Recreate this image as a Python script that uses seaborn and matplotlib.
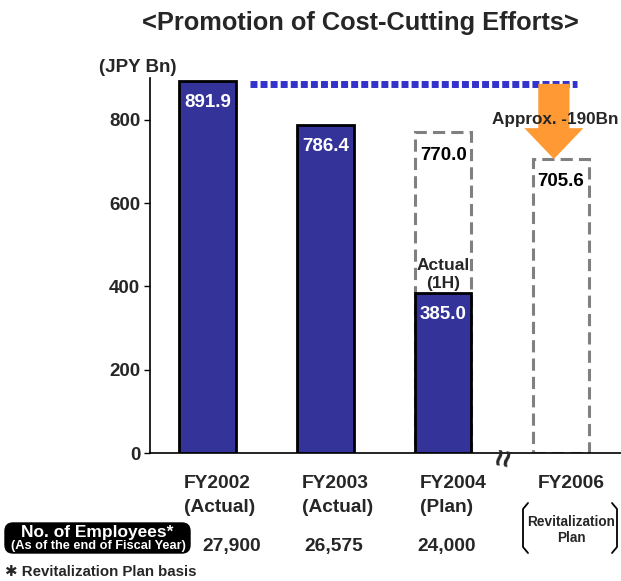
import matplotlib.pyplot as plt
import pandas as pd
import seaborn as sns
import numpy as np
from matplotlib.patches import FancyBboxPatch
from matplotlib.lines import Line2D

# dados
anos = ['FY2002', 'FY2003', 'FY2004', 'FY2006']
subtitulos = ['(Actual)', '(Actual)', '(Plan)', '']
real = [891.9, 786.4, 385.0, np.nan]
plano = [np.nan, np.nan, 770.0, 705.6]
funcionarios = ['27,900', '26,575', '24,000']
yticks = [0, 200, 400, 600, 800]

df = pd.DataFrame({'ano': anos, 'real': real, 'plano': plano})

sns.set_style("white")
plt.rcParams['font.family'] = ['Liberation Sans', 'DejaVu Sans']
plt.rcParams['font.weight'] = 'bold'

fig = plt.figure(figsize=(6.21, 5.81), dpi=100)
ax = fig.add_axes([150 / 621, 1 - 453 / 581, 471 / 621, 375 / 581])

# caixas tracejadas (plano)
sns.barplot(data=df, x='ano', y='plano', order=anos, fill=False, color='#808080',
            width=0.48, linewidth=2.2, linestyle=(0, (4, 2)), ax=ax, zorder=2)
for p in ax.patches:
    p.set_edgecolor('#808080')
    p.set_facecolor('none')

# barras reais
sns.barplot(data=df, x='ano', y='real', order=anos, color='#333399', saturation=1,
            width=0.48, edgecolor='black', linewidth=2, ax=ax, zorder=3)

ax.set_xlim(-0.49, 3.51)
ax.set_ylim(0, 900)
ax.set_yticks(yticks)
ax.set_yticklabels([str(v) for v in yticks], fontsize=13.5, fontweight='bold')
ax.set_xticks([])
ax.set_xlabel('')
ax.set_ylabel('')
ax.tick_params(axis='y', direction='out', length=4, width=1, color='black', pad=3, left=True)
for s in ['top', 'right']:
    ax.spines[s].set_visible(False)
for s in ['left', 'bottom']:
    ax.spines[s].set_color('black')
    ax.spines[s].set_linewidth(1.2)

# linha pontilhada no nível de FY2002
ax.hlines(real[0] - 6, 0.36, 3.14, colors='#3333CC', linewidth=5,
          linestyles=[(0, (1, 0.45))], zorder=4)

# seta laranja
ax.arrow(2.94, real[0] - 6, 0, plano[3] - real[0] + 6, width=0.265, head_width=0.5,
         head_length=74, length_includes_head=True, color='#FF9933', zorder=5, lw=0)
ax.text(2.95, 800, 'Approx. -190Bn', ha='center', va='center', fontsize=12.3,
        fontweight='bold', zorder=6)

# rótulos de valores
for i, v in enumerate(real):
    if not np.isnan(v):
        ax.annotate(f'{v:.1f}', xy=(i, v), xytext=(0, -15.5), textcoords='offset points',
                    ha='center', va='center', color='white', fontsize=13.5,
                    fontweight='bold', zorder=6)
for i, v in enumerate(plano):
    if not np.isnan(v):
        ax.annotate(f'{v:.1f}', xy=(i, v), xytext=(0, -16.5), textcoords='offset points',
                    ha='center', va='center', color='black', fontsize=13.5,
                    fontweight='bold', zorder=6)
ax.annotate('Actual\n(1H)', xy=(2, real[2]), xytext=(0, 1), textcoords='offset points',
            ha='center', va='bottom', fontsize=12.5, fontweight='bold', zorder=6,
            linespacing=1.3)

# quebra do eixo
ax.annotate('≈', xy=(2.53, 0), xytext=(0, -4), textcoords='offset points', rotation=80,
            ha='center', va='center', fontsize=22, fontweight='bold',
            annotation_clip=False)

# rótulos do eixo x
for i, (a, s) in enumerate(zip(anos, subtitulos)):
    txt = a if s == '' else a + '\n' + s
    ax.annotate(txt, xy=(i - 0.2, 0), xycoords=('data', 'axes fraction'),
                xytext=(0, -15.5), textcoords='offset points', ha='left', va='top',
                fontsize=13.8, fontweight='bold', linespacing=1.6,
                annotation_clip=False)

# número de funcionários
desloc = [0.2, 0.07, 0.03]
for i, f in enumerate(funcionarios):
    ax.annotate(f, xy=(i + desloc[i], 0), xycoords=('data', 'axes fraction'),
                xytext=(0, -67), textcoords='offset points', ha='center', va='center',
                fontsize=13.8, fontweight='bold', annotation_clip=False)

ax.annotate('Revitalization\nPlan', xy=(3.09, 0), xycoords=('data', 'axes fraction'),
            xytext=(0, -55.5), textcoords='offset points', ha='center', va='center',
            fontsize=9.8, fontweight='bold', linespacing=1.2, annotation_clip=False)

# colchetes
def px(x, y):
    return x / 621, 1 - y / 581

for pts in ([(528, 503), (523, 509), (523, 547), (528, 553)],
            [(612, 503), (617, 509), (617, 547), (612, 553)]):
    xs, ys = zip(*[px(x, y) for x, y in pts])
    fig.add_artist(Line2D(xs, ys, color='black', linewidth=1.3, transform=fig.transFigure))

# caixa preta
caixa = FancyBboxPatch((0.05, 0.28), 1.85, 0.30, boxstyle='round,pad=0,rounding_size=0.08',
                       facecolor='black', edgecolor='black', transform=fig.dpi_scale_trans)
fig.add_artist(caixa)
fig.text(97 / 621, 1 - 532 / 581, 'No. of Employees*', color='white', ha='center',
         va='center', fontsize=12.5, fontweight='bold')
fig.text(98 / 621, 1 - 545.5 / 581, '(As of the end of Fiscal Year)', color='white',
         ha='center', va='center', fontsize=9.2, fontweight='bold')
fig.text(5 / 621, 1 - 572 / 581, '✱ Revitalization Plan basis', ha='left', va='center',
         fontsize=10.8, fontweight='bold')

# títulos
fig.text(360 / 621, 1 - 23 / 581, '<Promotion of Cost-Cutting Efforts>', ha='center',
         va='center', fontsize=18.3, fontweight='bold')
fig.text(138 / 621, 1 - 68 / 581, '(JPY Bn)', ha='center', va='center', fontsize=13.5,
         fontweight='bold')

fig.savefig('out.png', dpi=100)
